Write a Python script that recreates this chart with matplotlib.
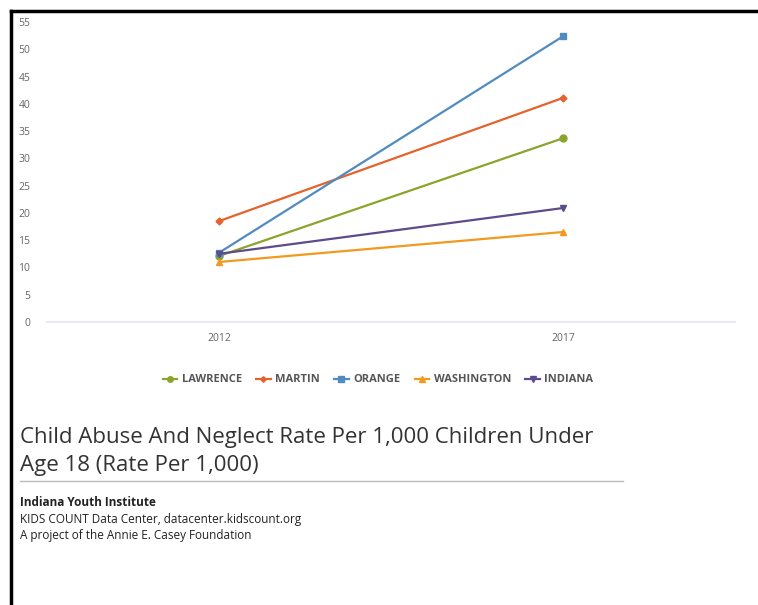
import matplotlib.pyplot as plt
from matplotlib.lines import Line2D

# Datos
years = ["2012", "2017"]
series_names = ["LAWRENCE", "MARTIN", "ORANGE", "WASHINGTON", "INDIANA"]
lawrence = [12.1, 33.7]
martin = [18.5, 41.1]
orange = [12.7, 52.4]
washington = [11.0, 16.5]
indiana = [12.5, 20.9]

valores = [lawrence, martin, orange, washington, indiana]
colores = ["#8ba42c", "#e5622c", "#508cc0", "#f19a1e", "#5e4b8b"]
marcadores = ["o", "D", "s", "^", "v"]
tamanos = [5, 3.5, 5, 5, 5]

plt.rcParams['font.family'] = ['Open Sans', 'DejaVu Sans']

fig = plt.figure(figsize=(7.58, 6.05), dpi=100)
ax = fig.add_axes([0.062, 0.4678, 0.908, 0.4958])

x = list(range(len(years)))
for nombre, vals, c, m, s in zip(series_names, valores, colores, marcadores, tamanos):
    ax.plot(x, vals, color=c, marker=m, markersize=s, linewidth=1.6, label=nombre)

ax.set_xlim(-0.5, 1.5)
ax.set_ylim(0, 55)
ax.set_yticks(range(0, 56, 5))
ax.set_xticks(x)
ax.set_xticklabels(years)
ax.tick_params(axis='both', length=0, labelsize=7.5, colors="#666666")
ax.tick_params(axis='y', pad=12)
ax.tick_params(axis='x', pad=8)
for lado in ["top", "right", "left"]:
    ax.spines[lado].set_visible(False)
ax.spines["bottom"].set_color("#e3e6ee")
ax.spines["bottom"].set_linewidth(1.2)

fig.legend(loc="center", bbox_to_anchor=(378 / 758, 1 - 380 / 605), ncol=5, frameon=False,
           prop={'weight': 'bold', 'size': 8}, labelcolor="#555555", markerscale=0.8,
           handlelength=1.3, columnspacing=1.3, handletextpad=0.4)

# Título y fuente
fig.text(20 / 758, 1 - 437 / 605, "Child Abuse And Neglect Rate Per 1,000 Children Under",
         fontsize=16, color="#333333", va="center")
fig.text(20 / 758, 1 - 465 / 605, "Age 18 (Rate Per 1,000)",
         fontsize=16, color="#333333", va="center")
fig.add_artist(Line2D([20 / 758, 623 / 758], [1 - 481 / 605, 1 - 481 / 605],
                      color="#bbbbbb", linewidth=1))
fig.text(20 / 758, 1 - 503 / 605, "Indiana Youth Institute", fontsize=8.5,
         fontweight="bold", color="#222222", va="center")
fig.text(20 / 758, 1 - 519 / 605, "KIDS COUNT Data Center, datacenter.kidscount.org",
         fontsize=8.5, color="#222222", va="center")
fig.text(20 / 758, 1 - 535 / 605, "A project of the Annie E. Casey Foundation",
         fontsize=8.5, color="#222222", va="center")

# Marco negro
fig.add_artist(Line2D([11 / 758, 11 / 758], [0, 1 - 11 / 605], color="black", linewidth=2.5))
fig.add_artist(Line2D([11 / 758, 1], [1 - 11 / 605, 1 - 11 / 605], color="black", linewidth=2.5))

plt.savefig("out.png", dpi=100)
